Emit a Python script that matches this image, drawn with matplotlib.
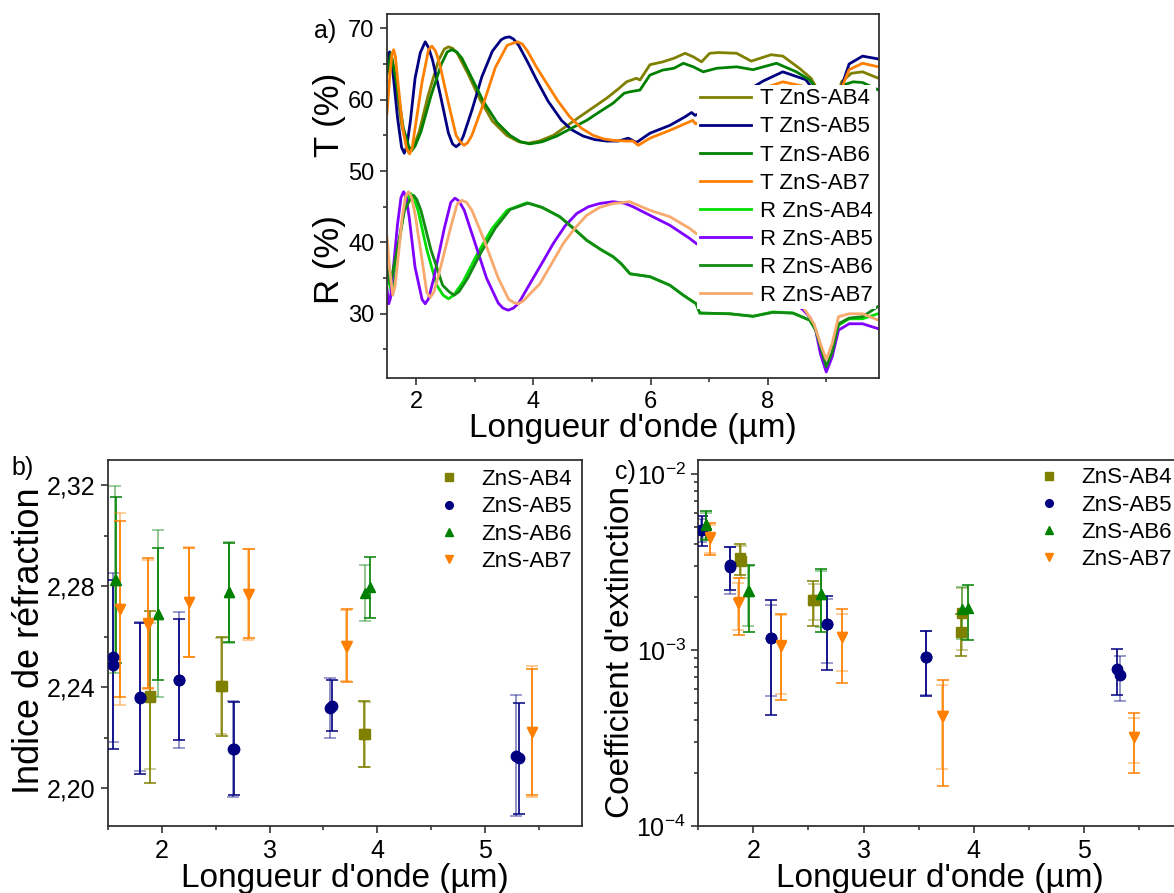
import matplotlib
matplotlib.use('Agg')
import matplotlib.pyplot as plt
from matplotlib.lines import Line2D
from matplotlib.colors import to_rgba
from matplotlib.ticker import MultipleLocator, LogLocator, NullFormatter, FuncFormatter

plt.rcParams['font.family'] = ['Liberation Sans', 'DejaVu Sans']

# ---------------- a) spectres T / R ----------------
t_ab4_x = [1.50, 1.57, 1.65, 1.75, 1.85, 1.898, 1.95, 2.05, 2.20, 2.38, 2.48, 2.55, 2.62, 2.70, 2.88, 3.09,
           3.30, 3.545, 3.75, 3.91, 4.10, 4.34, 4.55, 4.79, 5.02, 5.25, 5.45, 5.59, 5.76, 5.82, 5.99, 6.21,
           6.40, 6.59, 6.73, 6.87, 7.01, 7.16, 7.47, 7.72, 8.06, 8.26, 8.54, 8.74, 8.81, 8.92, 9.0, 9.1,
           9.26, 9.43, 9.62, 9.89]
t_ab4_y = [63.5, 66.4, 62.5, 56.5, 53.2, 52.7, 53.3, 55.5, 60.5, 65.5, 67.1, 67.4, 67.2, 66.5, 63.7, 60.0,
           57.0, 55.0, 54.1, 53.9, 54.2, 55.0, 56.2, 57.6, 58.9, 60.2, 61.5, 62.5, 63.0, 62.75, 64.9, 65.3,
           65.8, 66.5, 66.0, 65.3, 66.5, 66.6, 66.5, 65.4, 66.3, 66.1, 64.4, 63.0, 62.0, 58.0, 54.0, 57.0,
           62.5, 63.7, 63.9, 63.0]

t_ab5_x = [1.50, 1.52, 1.546, 1.57, 1.60, 1.68, 1.75, 1.796, 1.84, 1.90, 1.98, 2.07, 2.153, 2.21, 2.28, 2.41,
           2.55, 2.62, 2.681, 2.74, 2.80, 2.95, 3.12, 3.30, 3.45, 3.52, 3.59, 3.66, 3.75, 3.90, 4.056, 4.25,
           4.48, 4.65, 4.85, 5.05, 5.25, 5.45, 5.62, 5.76, 5.99, 6.33, 6.59, 6.70, 6.76, 7.2, 7.6, 7.92,
           8.258, 8.65, 8.79, 8.9, 9.0, 9.1, 9.24, 9.39, 9.62, 9.89]
t_ab5_y = [65.0, 66.3, 66.7, 66.0, 64.0, 57.5, 53.3, 52.5, 53.5, 57.0, 63.0, 66.6, 68.1, 67.3, 65.5, 60.7,
           55.3, 53.8, 53.4, 53.8, 54.8, 58.5, 63.2, 66.8, 68.4, 68.7, 68.8, 68.5, 67.6, 65.3, 62.75, 59.8,
           57.1, 55.8, 54.9, 54.4, 54.2, 54.2, 54.6, 54.0, 55.3, 56.4, 57.6, 58.2, 57.8, 59.5, 61.0, 62.6,
           63.9, 62.8, 61.3, 57.0, 53.0, 56.0, 61.3, 65.0, 66.1, 65.7]

t_ab6_x = [1.50, 1.57, 1.66, 1.78, 1.875, 1.926, 1.98, 2.08, 2.25, 2.43, 2.53, 2.61, 2.69, 2.78, 2.95, 3.15,
           3.38, 3.60, 3.78, 3.94, 4.15, 4.40, 4.65, 4.91, 5.15, 5.36, 5.55, 5.646, 5.82, 5.99, 6.21, 6.40,
           6.56, 6.73, 6.90, 7.13, 7.47, 7.75, 8.15, 8.49, 8.72, 8.79, 8.9, 9.0, 9.12, 9.29, 9.46, 9.62,
           9.88]
t_ab6_y = [63.8, 66.5, 62.5, 56.0, 53.4, 52.9, 53.5, 55.5, 60.5, 65.0, 66.7, 67.0, 66.7, 65.8, 63.0, 59.7,
           56.8, 55.0, 54.1, 53.8, 54.1, 54.9, 56.0, 57.1, 58.4, 59.5, 60.9, 61.1, 61.35, 63.45, 64.15, 64.4,
           65.1, 64.6, 63.9, 64.4, 64.6, 64.2, 65.1, 63.9, 62.75, 62.0, 58.0, 53.0, 57.0, 62.05, 62.5, 62.4,
           61.4]

t_ab7_x = [1.50, 1.55, 1.585, 1.614, 1.645, 1.68, 1.77, 1.84, 1.886, 1.93, 1.98, 2.10, 2.21, 2.267, 2.33, 2.40,
           2.55, 2.68, 2.76, 2.818, 2.88, 2.95, 3.15, 3.35, 3.55, 3.65, 3.732, 3.81, 3.90, 4.05, 4.226, 4.42,
           4.62, 4.82, 5.02, 5.20, 5.36, 5.59, 5.70, 5.79, 5.99, 6.33, 6.61, 6.72, 6.77, 7.2, 7.6, 8.0,
           8.26, 8.65, 8.8, 9.0, 9.15, 9.26, 9.39, 9.62, 9.89]
t_ab7_y = [58.0, 63.5, 66.3, 67.0, 66.0, 63.0, 56.0, 53.0, 52.4, 53.2, 56.0, 62.5, 67.0, 67.5, 66.8, 65.0,
           59.5, 55.0, 54.0, 53.6, 54.0, 55.0, 59.5, 64.5, 67.6, 67.9, 68.1, 67.8, 66.8, 64.6, 62.3, 59.8,
           57.6, 56.0, 55.0, 54.5, 54.3, 54.2, 54.2, 53.6, 54.6, 55.7, 56.7, 57.1, 56.6, 58.5, 60.0, 61.8,
           62.5, 61.8, 60.5, 52.0, 56.0, 61.6, 64.2, 65.1, 64.6]

r_ab4_x = [1.50, 1.585, 1.66, 1.78, 1.86, 1.909, 1.96, 2.03, 2.18, 2.35, 2.46, 2.55, 2.64, 2.80, 3.05, 3.30,
           3.55, 3.885, 4.15, 4.45, 4.68, 4.91, 5.15, 5.36, 5.50, 5.65, 5.82, 5.99, 6.33, 6.56, 6.78, 6.84,
           7.35, 7.75, 8.09, 8.43, 8.72, 8.82, 8.92, 9.0, 9.10, 9.21, 9.39, 9.62, 9.88]
r_ab4_y = [35.5, 32.8, 37.0, 44.0, 46.3, 46.85, 46.2, 44.5, 39.0, 34.0, 32.6, 32.1, 32.6, 34.5, 38.5, 42.0,
           44.5, 45.55, 44.9, 43.6, 42.0, 40.3, 39.0, 38.0, 37.0, 35.6, 35.4, 35.2, 34.0, 32.6, 31.4, 30.1,
           30.0, 29.65, 30.26, 30.1, 29.1, 27.7, 24.9, 22.3, 24.4, 28.4, 29.3, 29.3, 30.0]

r_ab5_x = [1.50, 1.53, 1.56, 1.60, 1.68, 1.74, 1.784, 1.83, 1.88, 1.98, 2.10, 2.153, 2.21, 2.30, 2.48, 2.59,
           2.66, 2.73, 2.82, 3.00, 3.20, 3.40, 3.48, 3.57, 3.66, 3.75, 3.94, 4.14, 4.34, 4.54, 4.74, 4.94,
           5.13, 5.36, 5.55, 5.70, 5.99, 6.33, 6.67, 6.78, 7.3, 8.0, 8.6, 8.72, 8.82, 8.90, 9.00, 9.10,
           9.21, 9.39, 9.62, 9.89]
r_ab5_y = [33.5, 31.4, 32.2, 35.5, 42.5, 46.3, 47.1, 46.2, 43.5, 36.5, 32.0, 31.4, 32.1, 35.0, 42.0, 45.6,
           46.2, 45.8, 44.5, 40.0, 35.0, 31.5, 30.8, 30.5, 30.8, 31.5, 34.2, 37.0, 39.85, 42.3, 44.05, 45.0,
           45.45, 45.7, 45.5, 45.0, 43.8, 42.4, 40.55, 39.85, 37.0, 34.0, 30.6, 29.5, 27.7, 24.4, 21.85, 23.95,
           27.7, 28.6, 28.6, 27.9]

r_ab6_x = [1.50, 1.557, 1.64, 1.80, 1.90, 1.955, 2.01, 2.08, 2.25, 2.45, 2.56, 2.647, 2.73, 2.88, 3.10, 3.35,
           3.60, 3.914, 4.15, 4.45, 4.68, 4.91, 5.15, 5.36, 5.50, 5.65, 5.82, 5.99, 6.33, 6.56, 6.78, 6.84,
           7.35, 7.75, 8.09, 8.43, 8.72, 8.82, 8.92, 9.0, 9.10, 9.21, 9.39, 9.62, 9.88]
r_ab6_y = [36.5, 34.2, 37.5, 44.5, 46.1, 46.6, 46.0, 44.5, 39.0, 34.0, 33.1, 32.6, 33.1, 35.0, 38.5, 42.0,
           44.6, 45.5, 44.9, 43.6, 42.0, 40.3, 39.0, 38.0, 37.0, 35.6, 35.4, 35.2, 34.0, 32.6, 31.4, 30.1,
           30.0, 29.65, 30.2, 30.1, 29.1, 27.7, 24.9, 22.6, 24.6, 28.6, 29.4, 29.6, 31.0]

r_ab7_x = [1.50, 1.55, 1.60, 1.64, 1.68, 1.76, 1.82, 1.87, 1.92, 1.98, 2.10, 2.18, 2.24, 2.30, 2.40, 2.60,
           2.70, 2.78, 2.86, 2.95, 3.15, 3.40, 3.58, 3.66, 3.74, 3.83, 3.92, 4.11, 4.31, 4.51, 4.71, 4.91,
           5.13, 5.36, 5.646, 5.99, 6.33, 6.67, 6.78, 7.4, 8.1, 8.6, 8.79, 8.90, 9.0, 9.10, 9.21, 9.39,
           9.62, 9.89]
r_ab7_y = [40.8, 36.0, 32.6, 34.0, 37.0, 43.5, 46.5, 47.1, 46.3, 44.0, 37.5, 33.0, 32.3, 33.0, 36.0, 42.5,
           45.4, 45.9, 45.6, 44.5, 40.5, 35.0, 32.0, 31.6, 31.4, 31.8, 32.6, 34.2, 37.0, 39.85, 42.0, 43.8,
           44.9, 45.45, 45.7, 44.5, 43.6, 41.95, 41.25, 38.5, 35.0, 31.0, 28.6, 25.8, 23.6, 25.8, 29.6, 30.0,
           30.0, 29.1]

spectra = [
    ('T ZnS-AB4', t_ab4_x, t_ab4_y, '#808000'),
    ('T ZnS-AB5', t_ab5_x, t_ab5_y, '#000080'),
    ('T ZnS-AB6', t_ab6_x, t_ab6_y, '#008000'),
    ('T ZnS-AB7', t_ab7_x, t_ab7_y, '#FF8000'),
    ('R ZnS-AB4', r_ab4_x, r_ab4_y, '#00DD00'),
    ('R ZnS-AB5', r_ab5_x, r_ab5_y, '#8000FF'),
    ('R ZnS-AB6', r_ab6_x, r_ab6_y, '#138A13'),
    ('R ZnS-AB7', r_ab7_x, r_ab7_y, '#F7A96E'),
]

# ---------------- b) indice de refraction (2 mesures) ----------------
n_ab4_x1 = [1.885, 2.556, 3.880]
n_ab4_y1 = [2.2360, 2.2403, 2.2213]
n_ab4_e1 = [0.0340, 0.0196, 0.0131]
n_ab4_x2 = [1.890, 2.552, 3.884]
n_ab4_y2 = [2.2365, 2.2405, 2.2213]
n_ab4_e2 = [0.0290, 0.0190, 0.0128]

n_ab5_x1 = [1.543, 1.796, 2.160, 2.667, 3.580, 5.315]
n_ab5_y1 = [2.2489, 2.2356, 2.2429, 2.2156, 2.2326, 2.2119]
n_ab5_e1 = [0.0335, 0.0298, 0.0240, 0.0185, 0.0101, 0.0220]
n_ab5_x2 = [1.540, 1.792, 2.157, 2.664, 3.562, 5.290]
n_ab5_y2 = [2.2518, 2.2363, 2.2429, 2.2156, 2.2317, 2.2128]
n_ab5_e2 = [0.0335, 0.0296, 0.0270, 0.0190, 0.0119, 0.0240]

n_ab6_x1 = [1.575, 1.966, 2.623, 3.932]
n_ab6_y1 = [2.2825, 2.2691, 2.2776, 2.2795]
n_ab6_e1 = [0.0330, 0.0261, 0.0196, 0.0121]
n_ab6_x2 = [1.567, 1.962, 2.620, 3.889]
n_ab6_y2 = [2.2826, 2.2691, 2.2776, 2.2773]
n_ab6_e2 = [0.0370, 0.0331, 0.0200, 0.0110]

n_ab7_x1 = [1.611, 1.873, 2.250, 2.809, 3.716, 5.438]
n_ab7_y1 = [2.2710, 2.2654, 2.2736, 2.2771, 2.2564, 2.2223]
n_ab7_e1 = [0.0350, 0.0256, 0.0215, 0.0175, 0.0145, 0.0250]
n_ab7_x2 = [1.608, 1.870, 2.247, 2.797, 3.713, 5.435]
n_ab7_y2 = [2.2710, 2.2648, 2.2736, 2.2768, 2.2564, 2.2223]
n_ab7_e2 = [0.0380, 0.0256, 0.0218, 0.0180, 0.0140, 0.0260]

# ---------------- c) coefficient d'extinction (2 mesures) ----------------
k_ab4_x1 = [1.882, 2.545, 3.885]
k_ab4_y1 = [3.35e-3, 1.925e-3, 1.27e-3]
k_ab4_e1 = [0.67e-3, 0.555e-3, 0.34e-3]
k_ab4_x2 = [1.885, 2.548, 3.897]
k_ab4_y2 = [3.22e-3, 1.92e-3, 1.62e-3]
k_ab4_e2 = [0.66e-3, 0.44e-3, 0.62e-3]

k_ab5_x1 = [1.531, 1.791, 2.161, 2.670, 3.570, 5.303]
k_ab5_y1 = [4.82e-3, 3.02e-3, 1.17e-3, 1.40e-3, 0.915e-3, 0.781e-3]
k_ab5_e1 = [0.94e-3, 0.84e-3, 0.74e-3, 0.635e-3, 0.368e-3, 0.227e-3]
k_ab5_x2 = [1.528, 1.789, 2.158, 2.667, 3.567, 5.327]
k_ab5_y2 = [4.83e-3, 2.97e-3, 1.175e-3, 1.40e-3, 0.915e-3, 0.72e-3]
k_ab5_e2 = [0.74e-3, 0.90e-3, 0.625e-3, 0.56e-3, 0.36e-3, 0.208e-3]

k_ab6_x1 = [1.570, 1.958, 2.615, 3.945]
k_ab6_y1 = [5.17e-3, 2.155e-3, 2.07e-3, 1.735e-3]
k_ab6_e1 = [0.97e-3, 0.895e-3, 0.81e-3, 0.595e-3]
k_ab6_x2 = [1.566, 1.955, 2.612, 3.894]
k_ab6_y2 = [5.15e-3, 2.17e-3, 2.07e-3, 1.71e-3]
k_ab6_e2 = [0.85e-3, 0.81e-3, 0.725e-3, 0.56e-3]

k_ab7_x1 = [1.606, 1.867, 2.252, 2.803, 3.718, 5.4545]
k_ab7_y1 = [4.37e-3, 1.88e-3, 1.06e-3, 1.18e-3, 0.421e-3, 0.32e-3]
k_ab7_e1 = [0.90e-3, 0.67e-3, 0.54e-3, 0.53e-3, 0.253e-3, 0.12e-3]
k_ab7_x2 = [1.603, 1.864, 2.249, 2.800, 3.715, 5.451]
k_ab7_y2 = [4.35e-3, 1.86e-3, 1.065e-3, 1.18e-3, 0.42e-3, 0.32e-3]
k_ab7_e2 = [0.80e-3, 0.555e-3, 0.506e-3, 0.417e-3, 0.21e-3, 0.092e-3]

samples = ['ZnS-AB4', 'ZnS-AB5', 'ZnS-AB6', 'ZnS-AB7']
colors = ['#808000', '#000080', '#008000', '#FF8000']
markers = ['s', 'o', '^', 'v']

n_sets = [
    ((n_ab4_x1, n_ab4_y1, n_ab4_e1), (n_ab4_x2, n_ab4_y2, n_ab4_e2)),
    ((n_ab5_x1, n_ab5_y1, n_ab5_e1), (n_ab5_x2, n_ab5_y2, n_ab5_e2)),
    ((n_ab6_x1, n_ab6_y1, n_ab6_e1), (n_ab6_x2, n_ab6_y2, n_ab6_e2)),
    ((n_ab7_x1, n_ab7_y1, n_ab7_e1), (n_ab7_x2, n_ab7_y2, n_ab7_e2)),
]
k_sets = [
    ((k_ab4_x1, k_ab4_y1, k_ab4_e1), (k_ab4_x2, k_ab4_y2, k_ab4_e2)),
    ((k_ab5_x1, k_ab5_y1, k_ab5_e1), (k_ab5_x2, k_ab5_y2, k_ab5_e2)),
    ((k_ab6_x1, k_ab6_y1, k_ab6_e1), (k_ab6_x2, k_ab6_y2, k_ab6_e2)),
    ((k_ab7_x1, k_ab7_y1, k_ab7_e1), (k_ab7_x2, k_ab7_y2, k_ab7_e2)),
]

LAB = 24
SPINE = '#333333'


def style_axes(ax, size):
    for s in ax.spines.values():
        s.set_color(SPINE)
        s.set_linewidth(1.3)
    ax.tick_params(which='both', direction='out', top=False, right=False,
                   color=SPINE, width=1.2, labelsize=size, pad=4)
    ax.tick_params(which='major', length=5)
    ax.tick_params(which='minor', length=3)


fig = plt.figure(figsize=(11.74, 8.93), dpi=100)

# ---- panel a
ax = fig.add_axes([0.3296, 0.5767, 0.4191, 0.4076])
for lab, x, y, c in spectra:
    ax.plot(x, y, color=c, lw=2.0, label=lab, solid_joinstyle='round')
ax.set_xlim(1.5, 9.9)
ax.set_ylim(21, 72)
ax.xaxis.set_major_locator(MultipleLocator(2))
ax.xaxis.set_minor_locator(MultipleLocator(1))
ax.set_yticks([30, 40, 50, 60, 70])
ax.yaxis.set_minor_locator(MultipleLocator(5))
style_axes(ax, 17)
leg = ax.legend(loc='upper left', bbox_to_anchor=(0.63, 0.805), borderaxespad=0,
                frameon=True, fancybox=False, edgecolor='none', facecolor='white',
                framealpha=1, fontsize=16, handlelength=2.3, handletextpad=0.4,
                labelspacing=0.32, borderpad=0.15)
leg.set_zorder(5)
fig.text(0.539, 0.5106, "Longueur d'onde (µm)", fontsize=LAB, ha='center', va='baseline')
fig.text(0.289, 0.871, 'T (%)', fontsize=25, rotation=90, rotation_mode='anchor',
         ha='center', va='baseline')
fig.text(0.289, 0.709, 'R (%)', fontsize=25, rotation=90, rotation_mode='anchor',
         ha='center', va='baseline')
fig.text(0.277, 0.965, 'a)', fontsize=18, ha='center', va='center')


def draw_points(ax, sets):
    for (s1, s2), c, m in zip(sets, colors, markers):
        for (x, y, e), a in ((s2, 0.5), (s1, 1.0)):
            ax.errorbar(x, y, yerr=e, fmt=m, color=c, ms=7.5, mec=c,
                        ecolor=to_rgba(c, a), elinewidth=1.2, capsize=4,
                        capthick=1.1, ls='none', zorder=3)
    handles = [Line2D([], [], ls='none', marker=m, color=c, ms=5.5)
               for c, m in zip(colors, markers)]
    return handles


# ---- panel b
axb = fig.add_axes([0.0922, 0.075, 0.4033, 0.4099])
h = draw_points(axb, n_sets)
axb.set_xlim(1.5, 5.9)
axb.set_ylim(2.185, 2.330)
axb.xaxis.set_major_locator(MultipleLocator(1))
axb.xaxis.set_minor_locator(MultipleLocator(0.5))
axb.set_yticks([2.20, 2.24, 2.28, 2.32])
axb.yaxis.set_minor_locator(MultipleLocator(0.02))
axb.yaxis.set_major_formatter(FuncFormatter(lambda v, p: f'{v:.2f}'.replace('.', ',')))
style_axes(axb, 18)
axb.legend(h, samples, loc='upper left', bbox_to_anchor=(0.673, 0.975), borderaxespad=0,
           frameon=False, fontsize=16, handlelength=2.0, handletextpad=0.45,
           labelspacing=0.28, borderpad=0)
fig.text(0.294, 0.0067, "Longueur d'onde (µm)", fontsize=LAB, ha='center', va='baseline')
fig.text(0.0335, 0.283, 'Indice de réfraction', fontsize=26, rotation=90,
         rotation_mode='anchor', ha='center', va='baseline')
fig.text(0.0196, 0.476, 'b)', fontsize=18, ha='center', va='center')

# ---- panel c
axc = fig.add_axes([0.5948, 0.075, 0.4129, 0.4099])
h = draw_points(axc, k_sets)
axc.set_yscale('log')
axc.set_xlim(1.5, 5.9)
axc.set_ylim(1e-4, 1.2e-2)
axc.xaxis.set_major_locator(MultipleLocator(1))
axc.xaxis.set_minor_locator(MultipleLocator(0.5))
axc.yaxis.set_major_locator(LogLocator(base=10))
axc.yaxis.set_minor_locator(LogLocator(base=10, subs=range(2, 10)))
axc.yaxis.set_minor_formatter(NullFormatter())
style_axes(axc, 18)
axc.legend(h, samples, loc='upper left', bbox_to_anchor=(0.678, 0.98), borderaxespad=0,
           frameon=False, fontsize=16, handlelength=2.0, handletextpad=0.45,
           labelspacing=0.28, borderpad=0)
fig.text(0.801, 0.0067, "Longueur d'onde (µm)", fontsize=LAB, ha='center', va='baseline')
fig.text(0.5355, 0.27, "Coefficient d'extinction", fontsize=24, rotation=90,
         rotation_mode='anchor', ha='center', va='baseline')
fig.text(0.533, 0.471, 'c)', fontsize=18, ha='center', va='center')

fig.savefig('out.png', dpi=100)
